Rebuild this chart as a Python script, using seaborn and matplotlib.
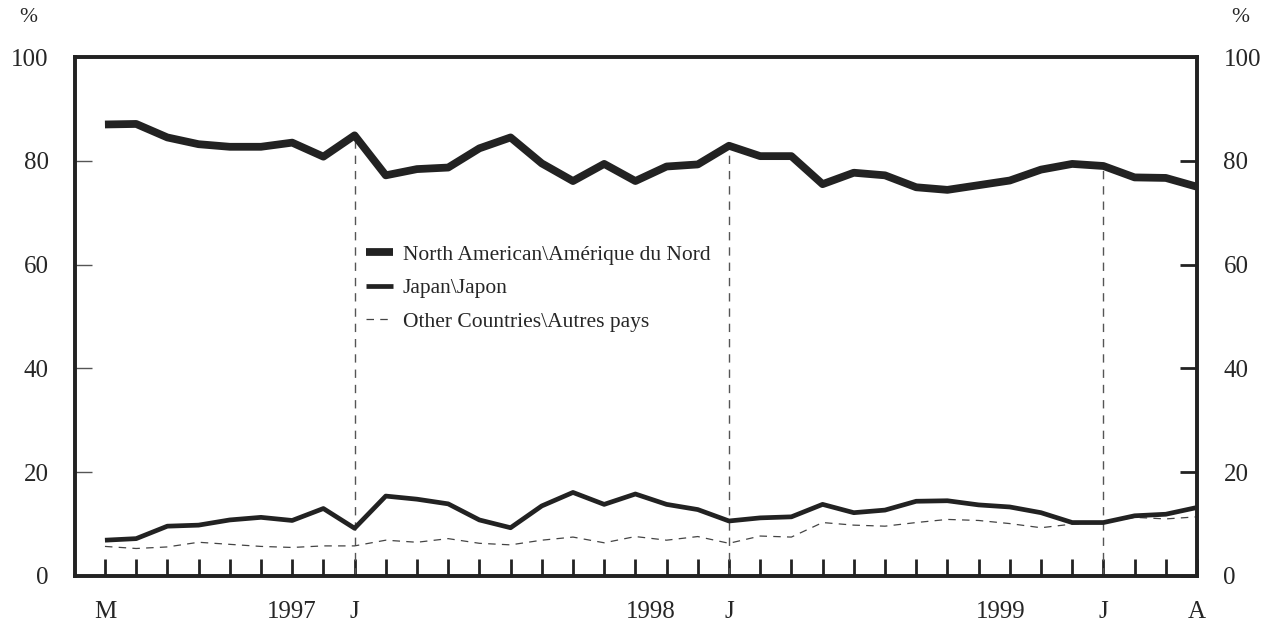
import numpy as np
import pandas as pd
import matplotlib
matplotlib.use("Agg")
import matplotlib.pyplot as plt
import seaborn as sns

# Monthly shares (%), May 1996 .. April 1999
north_america = [87.0, 87.1, 84.5, 83.2, 82.7, 82.7, 83.5, 80.8, 84.9, 77.2,
                 78.4, 78.7, 82.4, 84.5, 79.5, 76.1, 79.4, 76.1, 78.9, 79.3,
                 82.9, 80.9, 80.9, 75.5, 77.7, 77.2, 74.9, 74.4, 75.3, 76.2,
                 78.3, 79.4, 79.0, 76.8, 76.7, 75.0]
japan = [6.9, 7.2, 9.6, 9.8, 10.8, 11.3, 10.7, 13.0, 9.2, 15.4,
         14.8, 13.9, 10.8, 9.3, 13.5, 16.1, 13.8, 15.8, 13.8, 12.8,
         10.6, 11.2, 11.4, 13.8, 12.2, 12.7, 14.4, 14.5, 13.7, 13.3,
         12.2, 10.3, 10.3, 11.6, 11.9, 13.2]
other = [5.7, 5.3, 5.6, 6.5, 6.1, 5.7, 5.5, 5.8, 5.8, 6.9,
         6.5, 7.2, 6.3, 6.0, 6.9, 7.5, 6.4, 7.6, 6.9, 7.6,
         6.3, 7.7, 7.5, 10.3, 9.8, 9.6, 10.3, 10.9, 10.7, 10.1,
         9.3, 10.0, 10.3, 11.3, 11.0, 11.4]
month_labels = {0: "M", 8: "J", 20: "J", 32: "J", 35: "A"}
year_pos = [6, 17.5, 28.7]
year_labels = ["1997", "1998", "1999"]
series_names = ["North American\\Amérique du Nord", "Japan\\Japon",
                "Other Countries\\Autres pays"]

months = np.arange(len(north_america))
df = pd.DataFrame({"month": months, "na": north_america, "jp": japan, "ot": other})

sns.set_style("white")
plt.rcParams['font.family'] = ['Liberation Serif', 'DejaVu Serif']
ink = "#222222"

fig = plt.figure(figsize=(12.71, 6.24), dpi=100)
ax = fig.add_axes([75 / 1271, 1 - 576 / 624, 1122 / 1271, 519 / 624])

# reference lines at each January, up to the North American value
for k in [8, 20, 32]:
    ax.vlines(k, 0, north_america[k], colors="#555555", linewidth=1,
              linestyles=(0, (6, 5)), zorder=1)

sns.lineplot(data=df, x="month", y="na", ax=ax, color=ink, linewidth=5.6,
             label=series_names[0], solid_capstyle="butt", zorder=3)
sns.lineplot(data=df, x="month", y="jp", ax=ax, color=ink, linewidth=3.4,
             label=series_names[1], solid_capstyle="butt", zorder=3)
sns.lineplot(data=df, x="month", y="ot", ax=ax, color="#444444", linewidth=0.9,
             linestyle=(0, (6, 5)), label=series_names[2], zorder=2)

ax.set_xlim(-0.96, 35)
ax.set_ylim(0, 100)
ax.set_xlabel("")
ax.set_ylabel("")

ax.xaxis.remove_overlapping_locs = False
ax.set_xticks(months)
ax.set_xticklabels([month_labels.get(k, "") for k in months], fontsize=18)
ax.set_xticks(year_pos, minor=True)
ax.set_xticklabels(year_labels, minor=True, fontsize=18)
ax.tick_params(axis="x", which="major", bottom=True, direction="in", length=12.5,
               width=2, color=ink, pad=18)
ax.tick_params(axis="x", which="minor", bottom=True, length=0, pad=18)

ax.set_yticks([0, 20, 40, 60, 80, 100])
ax.tick_params(axis="y", left=True, direction="in", length=12, width=1,
               color="#555555", labelsize=18, pad=19)

ax2 = ax.twinx()
ax2.set_ylim(0, 100)
ax2.set_yticks([0, 20, 40, 60, 80, 100])
ax2.tick_params(axis="y", right=True, direction="in", length=12, width=2,
                color=ink, labelsize=18, pad=19)
ax2.grid(False)
ax.grid(False)

for a in (ax, ax2):
    for s in a.spines.values():
        s.set_linewidth(2.6)
        s.set_color(ink)

leg = ax.legend(loc="upper left", bbox_to_anchor=(0.252, 0.655), frameon=False,
                fontsize=15.5, handlelength=1.25, handletextpad=0.45,
                labelspacing=0.62, borderaxespad=0)

fig.text(28 / 1271, 1 - 18 / 624, "%", fontsize=15.5, ha="center", va="center")
fig.text(1240 / 1271, 1 - 18 / 624, "%", fontsize=15.5, ha="center", va="center")

fig.savefig("out.png", dpi=100)
